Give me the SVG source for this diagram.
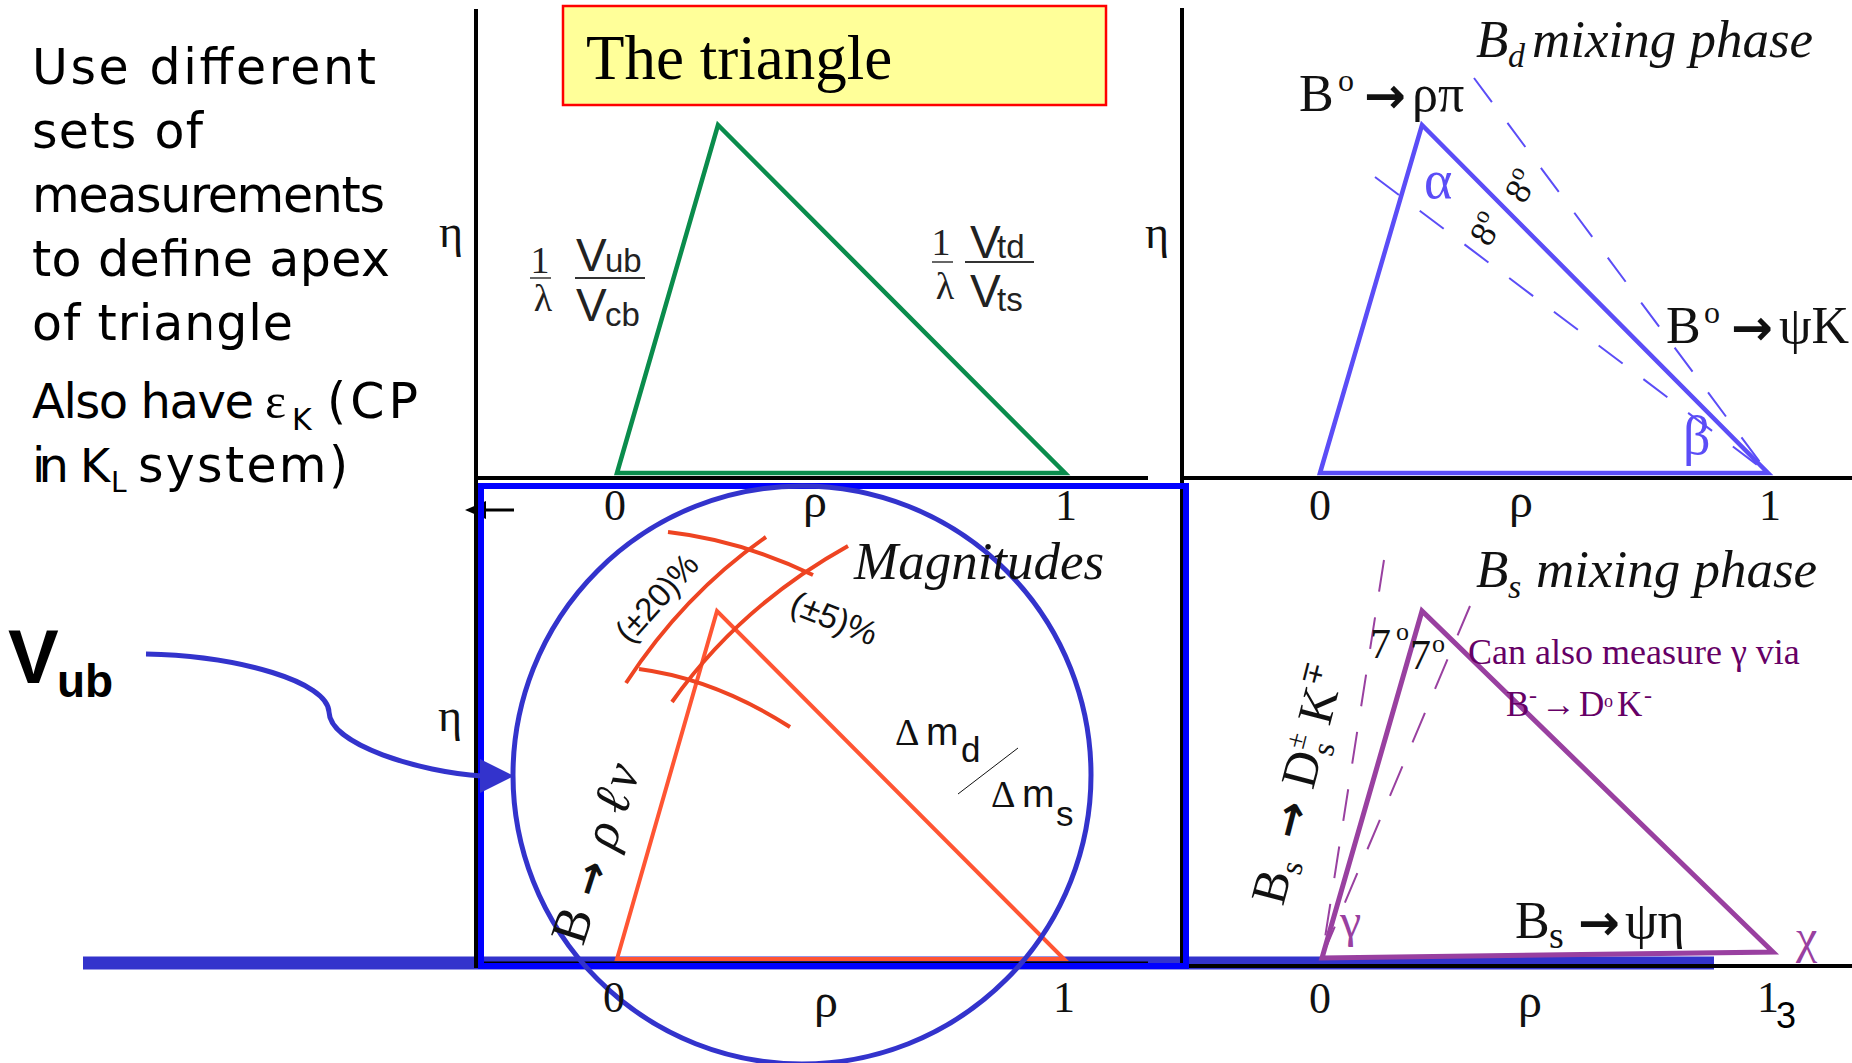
<svg xmlns="http://www.w3.org/2000/svg" width="1852" height="1063" viewBox="0 0 1852 1063">
<defs>
<style>
.serif{font-family:"Liberation Serif","Times New Roman",serif;}
.sans{font-family:"Liberation Sans",Arial,sans-serif;}
.comic{font-family:"DejaVu Sans",sans-serif;}
.arr{font-family:"DejaVu Sans",sans-serif;font-weight:bold;}
.axis{stroke:#000;stroke-width:4;fill:none;}
.tick{font-family:"Liberation Serif","Times New Roman",serif;font-size:44px;text-anchor:middle;fill:#111;}
.rho{font-size:48px;}
.dashB{stroke:#5B4DF7;stroke-width:2;stroke-dasharray:30 26;fill:none;}
.dashP{stroke:#9940A0;stroke-width:2;stroke-dasharray:32 26;fill:none;}
.arc{stroke:#EE4422;stroke-width:4;fill:none;}
</style>
</defs>
<rect width="1852" height="1063" fill="#fff"/>

<g id="intro-text" class="comic" font-size="49" fill="#000">
<text x="32" y="84" textLength="344">Use different</text>
<text x="32" y="148" textLength="171">sets of</text>
<text x="32" y="212" textLength="353">measurements</text>
<text x="32" y="276" textLength="358">to define apex</text>
<text x="32" y="340" textLength="261">of triangle</text>
<text x="32" y="418" textLength="222" font-size="48">Also have</text>
<text class="serif" x="265" y="418" font-size="50">ε</text>
<text x="292" y="430" font-size="30">K</text>
<text x="327" y="418" textLength="91">(CP</text>
<text x="32" y="482" textLength="37" font-size="48">in</text>
<text x="80" y="482" font-size="46">K</text>
<text x="111" y="492" font-size="28">L</text>
<text x="138" y="482" textLength="210">system)</text>
</g>

<g id="vub-label">
<text class="sans" font-weight="bold" fill="#000"><tspan x="8" y="683" font-size="76">V</tspan><tspan x="57" y="697" font-size="46">ub</tspan></text>
</g>

<g id="baseline-band">
<line x1="83" y1="963" x2="1714" y2="963" stroke="#3333CC" stroke-width="13"/>
</g>

<g id="axes">
<line class="axis" x1="476" y1="9" x2="476" y2="968"/>
<line class="axis" x1="474" y1="478" x2="1148" y2="478"/>
<line class="axis" x1="1182" y1="8" x2="1182" y2="968"/>
<line class="axis" x1="1180" y1="478" x2="1852" y2="478"/>
<line x1="476" y1="963" x2="1148" y2="963" stroke="#000" stroke-width="3"/>
<line x1="1184" y1="966" x2="1852" y2="966" stroke="#000" stroke-width="4"/>
<line x1="484" y1="510" x2="514" y2="510" stroke="#000" stroke-width="3"/>
<polygon points="465,510 486,501 486,519" fill="#000"/>
</g>

<g id="panel-top-middle">
<rect x="563" y="6" width="543" height="99" fill="#FFFF99" stroke="#FF0000" stroke-width="2.5"/>
<text class="serif" x="586" y="79" font-size="63" fill="#000">The triangle</text>
<polygon points="617,473 718,125 1065,473" fill="none" stroke="#0A8C4C" stroke-width="4.5"/>
<text class="serif" x="451" y="247" font-size="46" text-anchor="middle" fill="#111">η</text>
<text class="serif" x="1157" y="248" font-size="46" text-anchor="middle" fill="#111">η</text>
<text class="serif" x="540" y="273" font-size="38" text-anchor="middle" fill="#222">1</text>
<line x1="530" y1="278" x2="551" y2="278" stroke="#333" stroke-width="1.5"/>
<text class="serif" x="543" y="311" font-size="38" text-anchor="middle" fill="#222">λ</text>
<text class="sans" fill="#222"><tspan x="576" y="271" font-size="46">V</tspan><tspan x="605" y="272" font-size="33">ub</tspan></text>
<line x1="575" y1="278" x2="645" y2="278" stroke="#333" stroke-width="2"/>
<text class="sans" fill="#222"><tspan x="576" y="321" font-size="46">V</tspan><tspan x="605" y="326" font-size="33">cb</tspan></text>
<text class="serif" x="941" y="255" font-size="38" text-anchor="middle" fill="#222">1</text>
<line x1="932" y1="262" x2="953" y2="262" stroke="#333" stroke-width="1.5"/>
<text class="serif" x="945" y="299" font-size="38" text-anchor="middle" fill="#222">λ</text>
<text class="sans" fill="#222"><tspan x="970" y="258" font-size="46">V</tspan><tspan x="997" y="258" font-size="33">td</tspan></text>
<line x1="965" y1="262" x2="1034" y2="262" stroke="#333" stroke-width="2"/>
<text class="sans" fill="#222"><tspan x="970" y="307" font-size="46">V</tspan><tspan x="997" y="311" font-size="33">ts</tspan></text>
<text class="tick" x="615" y="520">0</text>
<text class="tick rho" x="815" y="517">ρ</text>
<text class="tick" x="1066" y="520">1</text>
</g>

<g id="panel-top-right">
<text class="serif" font-style="italic" font-size="53" fill="#111"><tspan x="1476" y="57">B</tspan><tspan x="1508" y="67" font-size="34">d</tspan><tspan x="1532" y="57">mixing phase</tspan></text>
<polygon points="1320,473 1422,125 1768,473" fill="none" stroke="#5B4DF7" stroke-width="4.5"/>
<line class="dashB" x1="1474" y1="78" x2="1768" y2="473"/>
<line class="dashB" x1="1375" y1="177" x2="1768" y2="473"/>
<text class="serif" font-size="52" fill="#111"><tspan x="1299" y="111">B</tspan><tspan x="1338" y="91" font-size="32">o</tspan><tspan class="arr" x="1364" y="113" font-size="50">→</tspan><tspan x="1412" y="111">ρπ</tspan></text>
<text class="serif" font-size="52" fill="#111"><tspan x="1666" y="343">B</tspan><tspan x="1704" y="323" font-size="32">o</tspan><tspan class="arr" x="1731" y="345" font-size="50">→</tspan><tspan x="1779" y="343">ψK</tspan></text>
<text class="serif" x="1424" y="198" font-size="54" fill="#5B4DF7">α</text>
<text class="serif" x="1683" y="454" font-size="54" fill="#5B4DF7">β</text>
<text class="serif" font-size="36" fill="#111" text-anchor="middle" transform="translate(1521,186) rotate(-60)" y="12">8<tspan font-size="24" dy="-15">o</tspan></text>
<text class="serif" font-size="36" fill="#111" text-anchor="middle" transform="translate(1486,229) rotate(-60)" y="12">8<tspan font-size="24" dy="-15">o</tspan></text>
<text class="tick" x="1320" y="520">0</text>
<text class="tick rho" x="1521" y="517">ρ</text>
<text class="tick" x="1770" y="520">1</text>
</g>

<g id="panel-bottom-middle">
<rect x="481" y="486" width="705" height="480" fill="none" stroke="#0000FF" stroke-width="6"/>
<polygon points="617,959 717,611 1064,959" fill="none" stroke="#FF5533" stroke-width="4"/>
<path class="arc" d="M668,532 Q740,540 813,575"/>
<path class="arc" d="M766,537 Q684,594 626,683"/>
<path class="arc" d="M848,546 Q740,606 672,702"/>
<path class="arc" d="M639,669 Q715,679 790,727"/>
<circle cx="802" cy="775" r="289" fill="none" stroke="#3333CC" stroke-width="5"/>
<text class="serif" x="450" y="731" font-size="46" text-anchor="middle" fill="#111">η</text>
<text class="serif" font-style="italic" font-size="53" x="854" y="579" fill="#111">Magnitudes</text>
<text class="sans" font-size="33" fill="#111" text-anchor="middle" transform="translate(657,598) rotate(-48)" y="11">(±20)%</text>
<text class="sans" font-size="34" fill="#111" text-anchor="middle" transform="translate(834,619) rotate(22)" y="11">(±5)%</text>
<text fill="#111"><tspan class="serif" x="895" y="745" font-size="38">Δ</tspan><tspan class="sans" x="926" y="745" font-size="39">m</tspan><tspan class="sans" x="961" y="762" font-size="35">d</tspan></text>
<line x1="1018" y1="748" x2="958" y2="794" stroke="#111" stroke-width="1"/>
<text fill="#111"><tspan class="serif" x="991" y="807" font-size="38">Δ</tspan><tspan class="sans" x="1022" y="807" font-size="39">m</tspan><tspan class="sans" x="1056" y="826" font-size="35">s</tspan></text>
<text class="serif" font-size="52" fill="#111" transform="translate(583,947) rotate(-72)"><tspan x="0" y="0">B</tspan><tspan class="arr" x="50" y="0" font-size="42">→</tspan><tspan x="101" y="0" font-style="italic">ρ</tspan><tspan x="137" y="0" font-style="italic">ℓ</tspan><tspan x="163" y="0" font-style="italic">ν</tspan></text>
<text class="tick" x="614" y="1012">0</text>
<text class="tick rho" x="826" y="1017">ρ</text>
<text class="tick" x="1064" y="1012">1</text>
</g>

<g id="panel-bottom-right">
<text class="serif" font-style="italic" font-size="53" fill="#111"><tspan x="1476" y="587">B</tspan><tspan x="1508" y="598" font-size="34">s</tspan><tspan x="1536" y="587">mixing phase</tspan></text>
<line class="dashP" x1="1384" y1="560" x2="1322" y2="957"/>
<line class="dashP" x1="1470" y1="606" x2="1322" y2="957"/>
<polygon points="1322,958 1422,611 1773,952" fill="none" stroke="#9940A0" stroke-width="5"/>
<text class="serif" font-size="42" fill="#111"><tspan x="1370" y="658">7</tspan><tspan x="1396" y="640" font-size="26">o</tspan></text>
<text class="serif" font-size="42" fill="#111"><tspan x="1410" y="669">7</tspan><tspan x="1432" y="652" font-size="26">o</tspan></text>
<text class="serif" font-size="36" fill="#660066" x="1468" y="664">Can also measure γ via</text>
<text class="serif" font-size="35" fill="#660066"><tspan x="1506" y="716">B</tspan><tspan x="1529" y="703" font-size="24">-</tspan><tspan x="1541" y="716">→</tspan><tspan x="1579" y="716">D</tspan><tspan x="1604" y="707" font-size="18">o</tspan><tspan x="1617" y="716">K</tspan><tspan x="1644" y="703" font-size="24">-</tspan></text>
<text class="serif" font-size="50" fill="#111" transform="translate(1283,907) rotate(-75.5)"><tspan x="0" y="0">B</tspan><tspan x="34" y="9" font-size="32">s</tspan><tspan class="arr" x="68" y="0" font-size="44">→</tspan><tspan x="120" y="0">D</tspan><tspan x="157" y="-20" font-size="28">±</tspan><tspan x="157" y="10" font-size="32">s</tspan><tspan x="186" y="0">K</tspan><tspan x="222" y="-20" font-size="28">∓</tspan></text>
<text class="serif" font-size="52" fill="#111"><tspan x="1515" y="938">B</tspan><tspan x="1549" y="948" font-size="38">s</tspan><tspan class="arr" x="1578" y="940" font-size="50">→</tspan><tspan x="1625" y="938">ψη</tspan></text>
<text class="serif" x="1340" y="937" font-size="48" fill="#9940A0">γ</text>
<text class="serif" x="1796" y="953" font-size="48" fill="#9940A0">χ</text>
<text class="tick" x="1320" y="1013">0</text>
<text class="tick rho" x="1530" y="1017">ρ</text>
<text class="tick" x="1768" y="1012">1</text>
<text class="sans" x="1776" y="1028" font-size="36" fill="#000">3</text>
</g>

<g id="connectors">
<path d="M146,654 C240,656 328,682 329,712 C330,745 420,772 482,776" stroke="#3333CC" stroke-width="5" fill="none"/>
<polygon points="480,759 514,776 480,793" fill="#3333CC"/>
</g>
</svg>
